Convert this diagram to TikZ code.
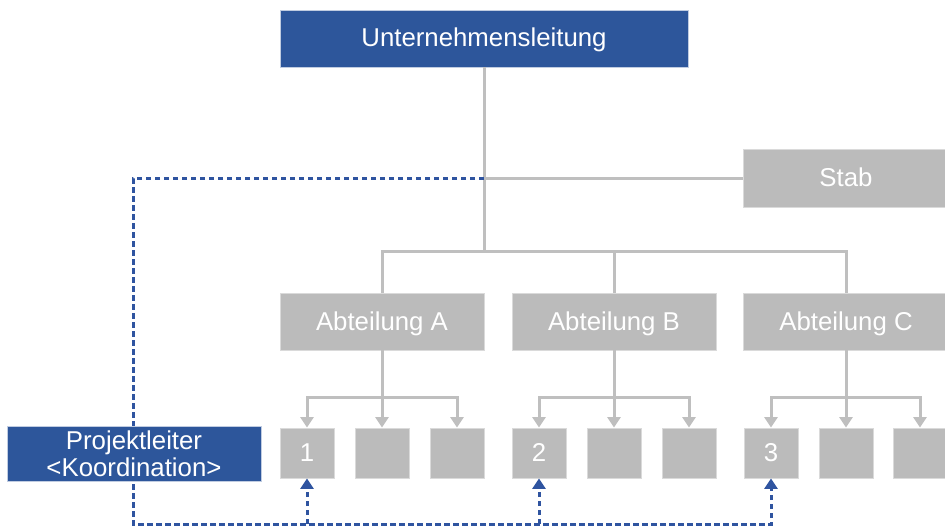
\documentclass[tikz,border=0pt]{standalone}
\usepackage{fontspec}
\setmainfont{Liberation Sans}
\usetikzlibrary{arrows.meta}

\definecolor{leitblau}{RGB}{45,86,155}
\definecolor{boxgrau}{RGB}{187,187,187}
\definecolor{liniengrau}{RGB}{191,191,191}
\definecolor{strichblau}{RGB}{47,84,160}

\tikzset{
	box/.style={fill=boxgrau, draw=boxgrau!55!white, line width=0.8pt, text=white, inner sep=0pt,
		font=\fontsize{25.8pt}{27pt}\selectfont},
	zeile/.style={text height=19pt, text depth=2pt},
	leitbox/.style={box, fill=leitblau, draw=leitblau!30!white},
	abtbox/.style={box, zeile, minimum width=204pt, minimum height=57pt},
	klein/.style={box, zeile, minimum width=54pt, minimum height=50pt},
	orgline/.style={draw=liniengrau, line width=3pt},
	orgpfeil/.style={orgline, -{Triangle[width=13pt,length=10.5pt]}},
	koord/.style={draw=strichblau, line width=3pt, dash pattern=on 5.5pt off 3.5pt},
	koordpfeil/.style={koord, -{Triangle[width=13pt,length=10.5pt]}}
}

\begin{document}
\begin{tikzpicture}[x=1pt,y=-1pt]
	\useasboundingbox (0,0) rectangle (945,527);
	\node[leitbox, zeile, minimum width=408pt, minimum height=57pt] (leitung) at (484,38.5) {Unternehmensleitung};
	\node[box, zeile, minimum width=206pt, minimum height=58pt] (stab) at (846,178) {Stab};
	\node[abtbox] (abtA) at (382,321.5) {Abteilung A};
	\node[abtbox] (abtB) at (614,321.5) {Abteilung B};
	\node[abtbox, minimum width=206pt] (abtC) at (846,321.5) {Abteilung C};
	\foreach \n/\x/\t in {A1/307/1, A2/382/{}, A3/457/{}, B1/539/2, B2/614/{}, B3/689/{}, C1/771/3, C2/846/{}, C3/920/{}}
		\node[klein] (\n) at (\x,453) {\t};

	\coordinate (verteiler) at (484,251);
	\draw[orgline] (leitung.south) -- (verteiler);
	\draw[orgline] (stab.west) -- (stab.west -| verteiler);
	\draw[orgline] (abtA.north) |- (verteiler) -| (abtC.north);
	\draw[orgline] (abtB.north) -- (abtB.north |- verteiler);
	\foreach \a in {A,B,C} {
		\coordinate (v\a) at (abt\a.south |- 0,397);
		\draw[orgline] (abt\a.south) -- (v\a);
		\draw[orgpfeil] (v\a) -| (\a1.north);
		\draw[orgpfeil] (v\a) -- (\a2.north);
		\draw[orgpfeil] (v\a) -| (\a3.north);
	}

	\coordinate (knick) at (133,524);
	\draw[koordpfeil] (stab.west -| verteiler) -| (knick) -| (C1.south);
	\draw[koordpfeil] (A1.south |- knick) -- (A1.south);
	\draw[koordpfeil] (B1.south |- knick) -- (B1.south);
	\node[leitbox, minimum width=254pt, minimum height=55pt, align=center] (projekt) at (134,453.5) {Projektleiter\\<Koordination>};
\end{tikzpicture}
\end{document}
